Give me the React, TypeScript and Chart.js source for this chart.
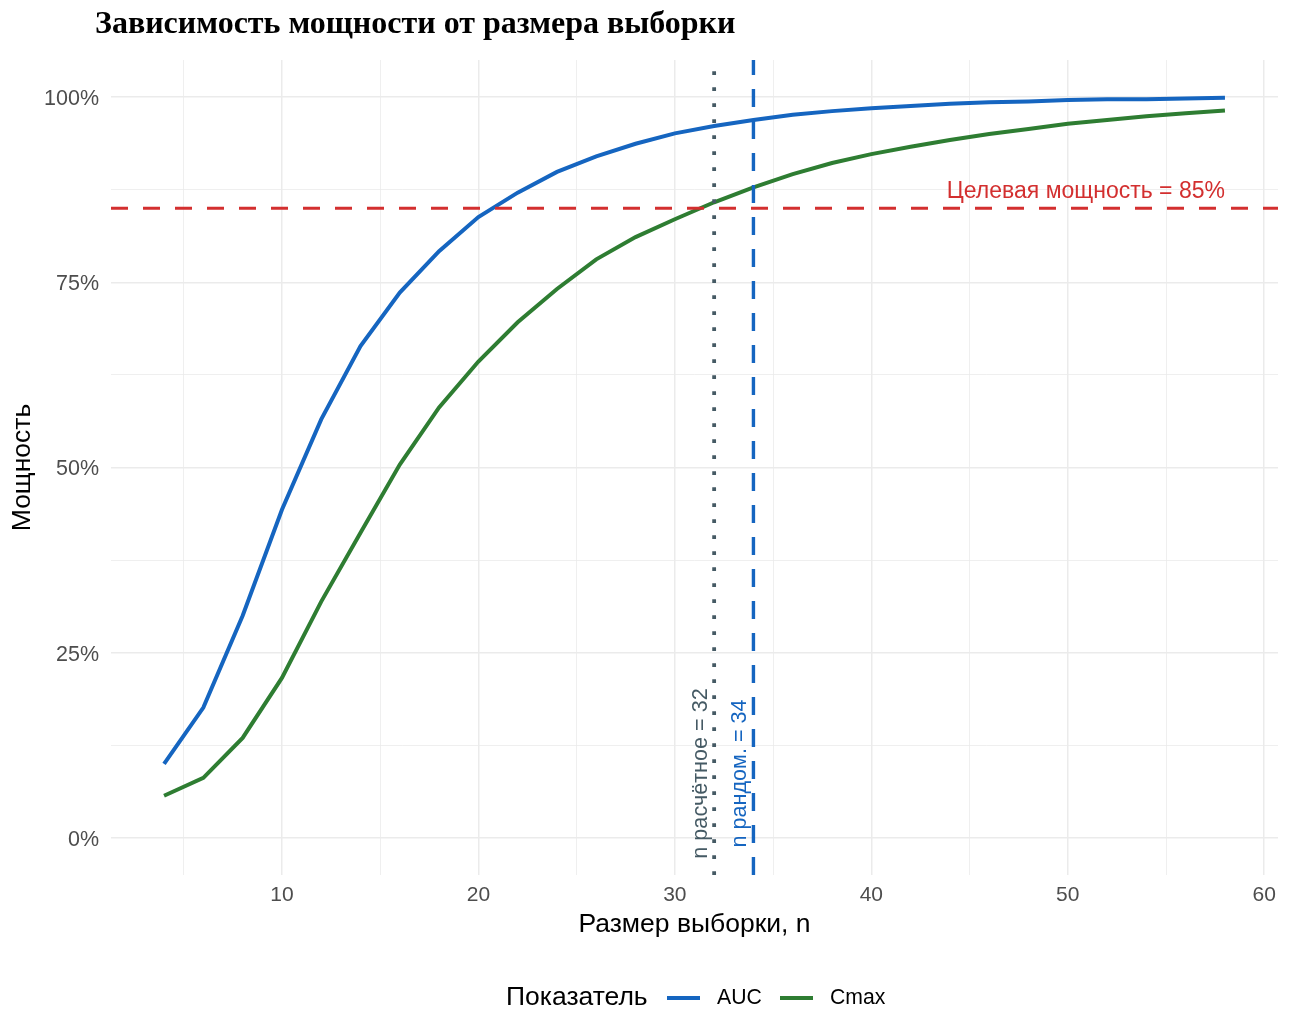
import React, { useEffect, useRef } from 'react';
import Chart from 'chart.js/auto';

// ---- data ----
const N_VALUES = [4, 6, 8, 10, 12, 14, 16, 18, 20, 22, 24, 26, 28, 30, 32, 34, 36, 38, 40, 42, 44, 46, 48, 50, 52, 54, 56, 58];
const AUC_POWER = [0.100, 0.176, 0.300, 0.443, 0.565, 0.664, 0.736, 0.792, 0.838, 0.871, 0.899, 0.920, 0.937, 0.951, 0.961, 0.969, 0.976, 0.981, 0.985, 0.988, 0.991, 0.993, 0.994, 0.996, 0.997, 0.997, 0.998, 0.999];
const CMAX_POWER = [0.057, 0.081, 0.135, 0.216, 0.319, 0.412, 0.504, 0.581, 0.643, 0.696, 0.741, 0.781, 0.811, 0.835, 0.858, 0.878, 0.896, 0.911, 0.923, 0.933, 0.942, 0.950, 0.957, 0.964, 0.969, 0.974, 0.978, 0.982];
const SERIES_NAMES = ['AUC', 'Cmax'];
const X_TICKS = [5, 10, 15, 20, 25, 30, 35, 40, 45, 50, 55, 60];
const X_LABELED = [10, 20, 30, 40, 50, 60];
const Y_TICKS = [0, 0.125, 0.25, 0.375, 0.5, 0.625, 0.75, 0.875, 1];
const Y_LABELED = [0, 0.25, 0.5, 0.75, 1];
const TARGET_POWER = 0.85;
const N_CALC = 32;
const N_RAND = 34;
const TITLE = 'Зависимость мощности от размера выборки';
const X_TITLE = 'Размер выборки, n';
const Y_TITLE = 'Мощность';
const LEGEND_TITLE = 'Показатель';
const TARGET_LABEL = 'Целевая мощность = 85%';
const CALC_LABEL = 'n расчётное = 32';
const RAND_LABEL = 'n рандом. = 34';

const BLUE = '#1565C0';
const GREEN = '#2E7D32';
const RED = '#D32F2F';
const SLATE = '#455A64';
const SANS = '"Liberation Sans", Arial, sans-serif';

export default function App() {
  const ref = useRef<HTMLCanvasElement | null>(null);

  useEffect(() => {
    document.body.style.margin = '0';
    const canvas = ref.current;
    if (!canvas) return;

    const overlay = {
      id: 'overlay',
      afterDatasetsDraw(chart: any) {
        const { ctx, chartArea: a, scales } = chart;
        const x = scales.x, y = scales.y;
        ctx.save();
        // target power line
        ctx.strokeStyle = RED;
        ctx.lineWidth = 3;
        ctx.setLineDash([17, 15]);
        const yy = y.getPixelForValue(TARGET_POWER);
        ctx.beginPath(); ctx.moveTo(a.left, yy); ctx.lineTo(a.right, yy); ctx.stroke();
        // calculated n (dotted)
        ctx.strokeStyle = SLATE;
        ctx.lineWidth = 3.8;
        ctx.setLineDash([3.8, 12.2]);
        const xc = x.getPixelForValue(N_CALC);
        ctx.beginPath(); ctx.moveTo(xc, a.bottom); ctx.lineTo(xc, a.top); ctx.stroke();
        // randomised n (dashed)
        ctx.strokeStyle = BLUE;
        ctx.lineWidth = 3.4;
        ctx.setLineDash([18, 14]);
        const xr = x.getPixelForValue(N_RAND);
        ctx.beginPath(); ctx.moveTo(xr, a.bottom); ctx.lineTo(xr, a.top); ctx.stroke();
        ctx.setLineDash([]);

        // annotations
        ctx.font = `23px ${SANS}`;
        ctx.fillStyle = RED;
        ctx.textAlign = 'right';
        ctx.textBaseline = 'alphabetic';
        ctx.fillText(TARGET_LABEL, x.getPixelForValue(58), yy - 10);

        ctx.font = `21.6px ${SANS}`;
        const yMid = y.getPixelForValue(0.087);
        ctx.textAlign = 'center';
        ctx.textBaseline = 'middle';
        ctx.save();
        ctx.translate(xc - 13, yMid);
        ctx.rotate(-Math.PI / 2);
        ctx.fillStyle = SLATE;
        ctx.fillText(CALC_LABEL, 0, 0);
        ctx.restore();
        ctx.save();
        ctx.translate(xr - 13, yMid);
        ctx.rotate(-Math.PI / 2);
        ctx.fillStyle = BLUE;
        ctx.fillText(RAND_LABEL, 0, 0);
        ctx.restore();
        ctx.restore();
      },
      afterDraw(chart: any) {
        const { ctx, chartArea: a } = chart;
        ctx.save();
        // title
        ctx.fillStyle = '#000';
        ctx.font = 'bold 32px "Liberation Serif", "Times New Roman", serif';
        ctx.textAlign = 'left';
        ctx.textBaseline = 'alphabetic';
        ctx.fillText(TITLE, 95, 33);
        // axis titles
        ctx.font = `26.5px ${SANS}`;
        ctx.textAlign = 'center';
        ctx.textBaseline = 'middle';
        ctx.fillText(X_TITLE, (a.left + a.right) / 2, 925);
        ctx.save();
        ctx.translate(23, (a.top + a.bottom) / 2);
        ctx.rotate(-Math.PI / 2);
        ctx.fillText(Y_TITLE, 0, 0);
        ctx.restore();
        // legend
        const ly = 998;
        ctx.textAlign = 'left';
        ctx.font = `26.5px ${SANS}`;
        ctx.fillText(LEGEND_TITLE, 506, ly);
        const colors = [BLUE, GREEN];
        const swatchX = [667, 780];
        ctx.font = `21.2px ${SANS}`;
        SERIES_NAMES.forEach((name, i) => {
          ctx.strokeStyle = colors[i];
          ctx.lineWidth = 4;
          ctx.beginPath();
          ctx.moveTo(swatchX[i], ly);
          ctx.lineTo(swatchX[i] + 33, ly);
          ctx.stroke();
          ctx.fillStyle = '#000';
          ctx.fillText(name, swatchX[i] + 50, ly);
        });
        ctx.restore();
      },
    };

    const gridWidth = (major: number[]) => (c: any) =>
      c.tick && major.includes(Math.round(c.tick.value * 1000) / 1000) ? 1.5 : 0.8;

    const chart = new Chart(canvas, {
      type: 'line',
      data: {
        datasets: [
          {
            label: SERIES_NAMES[0],
            data: N_VALUES.map((n, i) => ({ x: n, y: AUC_POWER[i] })),
            borderColor: BLUE,
            borderWidth: 4,
            pointRadius: 0,
            tension: 0,
            fill: false,
          },
          {
            label: SERIES_NAMES[1],
            data: N_VALUES.map((n, i) => ({ x: n, y: CMAX_POWER[i] })),
            borderColor: GREEN,
            borderWidth: 4,
            pointRadius: 0,
            tension: 0,
            fill: false,
          },
        ],
      },
      options: {
        responsive: false,
        animation: false,
        devicePixelRatio: 1,
        layout: { padding: { top: 60, right: 17, left: 0, bottom: 0 } },
        plugins: {
          legend: { display: false },
          title: { display: false },
          tooltip: { enabled: false },
        },
        scales: {
          x: {
            type: 'linear',
            min: 1.3,
            max: 60.7,
            afterBuildTicks: (s: any) => { s.ticks = X_TICKS.map((v) => ({ value: v })); },
            afterFit: (s: any) => { s.height = 140; },
            ticks: {
              autoSkip: false,
              maxRotation: 0,
              padding: 8,
              color: '#4D4D4D',
              font: { family: SANS, size: 21 },
              callback: (v: any) => (X_LABELED.includes(Number(v)) ? String(v) : ''),
            },
            grid: { color: '#EBEBEB', lineWidth: gridWidth(X_LABELED), drawTicks: false },
            border: { display: false },
          },
          y: {
            type: 'linear',
            min: -0.05,
            max: 1.05,
            afterBuildTicks: (s: any) => { s.ticks = Y_TICKS.map((v) => ({ value: v })); },
            afterFit: (s: any) => { s.width = 111; },
            ticks: {
              autoSkip: false,
              padding: 12,
              labelOffset: 2,
              color: '#4D4D4D',
              font: { family: SANS, size: 21.5 },
              callback: (v: any) => {
                const n = Math.round(Number(v) * 1000) / 1000;
                return Y_LABELED.includes(n) ? `${Math.round(n * 100)}%` : '';
              },
            },
            grid: { color: '#EBEBEB', lineWidth: gridWidth(Y_LABELED), drawTicks: false },
            border: { display: false },
          },
        },
      },
      plugins: [overlay],
    } as any);

    return () => chart.destroy();
  }, []);

  return <canvas ref={ref} width={1295} height={1015} style={{ display: 'block' }} />;
}
